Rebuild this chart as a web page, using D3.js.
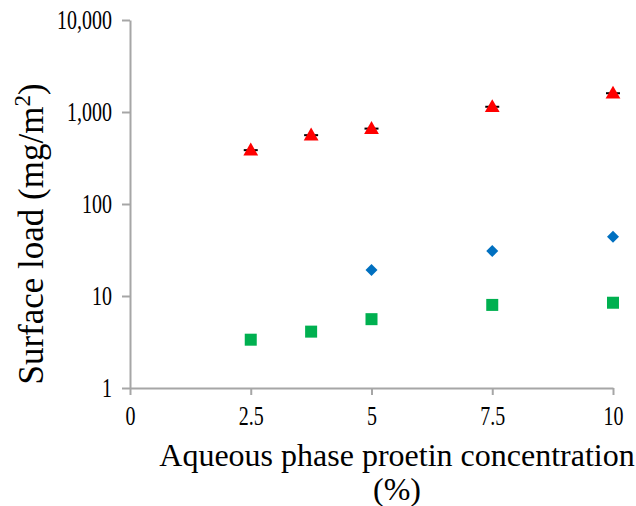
<!DOCTYPE html>
<html><head><meta charset="utf-8">
<script src="https://cdn.jsdelivr.net/npm/d3@7"></script>
</head><body style="margin:0">
<script>
const xValues = [2.5, 3.75, 5, 7.5, 10];
const triangleValues = [385, 560, 660, 1140, 1600];
const diamondX = [5, 7.5, 10];
const diamondValues = [19.2, 30.8, 44];
const squareValues = [3.35, 4.1, 5.6, 8.0, 8.45];
const xTicks = [0, 2.5, 5, 7.5, 10];
const yTicks = [1, 10, 100, 1000, 10000];
const xTitle = ["Aqueous phase proetin concentration", "(%)"];

const svg = d3.select("body").append("svg").attr("width", 636).attr("height", 506)
  .style("display", "block");
const x = d3.scaleLinear().domain([0, 10]).range([130, 613]);
const y = d3.scaleLog().domain([1, 10000]).range([388, 20]);
const axisColor = "#a6a6a6";
const serifFamily = "Liberation Serif, Times New Roman, serif";
const squeeze = 0.74;

const gx = svg.append("g").attr("transform", "translate(0,388)")
  .call(d3.axisBottom(x).tickValues(xTicks).tickSize(7).tickSizeOuter(0).tickPadding(11)
    .tickFormat(d => String(d)));
const gy = svg.append("g").attr("transform", "translate(130,0)")
  .call(d3.axisLeft(y).tickValues(yTicks).tickSize(8).tickSizeOuter(0).tickPadding(10)
    .tickFormat(d3.format(",")));
[gx, gy].forEach(g => {
  g.attr("font-family", serifFamily).attr("font-size", 27);
  g.select(".domain").attr("stroke", axisColor).attr("stroke-width", 2);
  g.selectAll(".tick line").attr("stroke", axisColor).attr("stroke-width", 2);
});
gx.selectAll(".tick text").attr("fill", "#000").attr("transform", `scale(${squeeze},1)`);
gy.selectAll(".tick text").attr("fill", "#000").attr("x", null)
  .attr("transform", `translate(-18,0) scale(${squeeze},1)`);

// error caps behind triangles
svg.append("g").selectAll("line").data(xValues).join("line")
  .attr("x1", (d) => x(d) - 7).attr("x2", (d) => x(d) + 7)
  .attr("y1", (d, i) => y(triangleValues[i])).attr("y2", (d, i) => y(triangleValues[i]))
  .attr("stroke", "#000").attr("stroke-width", 2);

svg.append("g").selectAll("path").data(xValues).join("path")
  .attr("d", d3.symbol().type(d3.symbolTriangle).size(95))
  .attr("transform", (d, i) => `translate(${x(d)},${y(triangleValues[i]) + 1})`)
  .attr("fill", "#ff0000");

svg.append("g").selectAll("path").data(diamondX).join("path")
  .attr("d", d3.symbol().type(d3.symbolSquare).size(72))
  .attr("transform", (d, i) => `translate(${x(d)},${y(diamondValues[i])}) rotate(45)`)
  .attr("fill", "#0070c0");

svg.append("g").selectAll("rect").data(xValues).join("rect")
  .attr("x", d => x(d) - 6).attr("y", (d, i) => y(squareValues[i]) - 6)
  .attr("width", 12).attr("height", 12)
  .attr("fill", "#00b050");

svg.append("text").attr("x", 397).attr("y", 466).attr("text-anchor", "middle")
  .attr("font-family", serifFamily).attr("font-size", 32).text(xTitle[0]);
svg.append("text").attr("x", 397).attr("y", 500).attr("text-anchor", "middle")
  .attr("font-family", serifFamily).attr("font-size", 32).text(xTitle[1]);

const yt = svg.append("text").attr("transform", "translate(43,234) rotate(-90)")
  .attr("text-anchor", "middle").attr("font-family", serifFamily).attr("font-size", 35);
yt.append("tspan").text("Surface load (mg/m");
yt.append("tspan").attr("dy", -13).attr("font-size", 23).text("2");
yt.append("tspan").attr("dy", 13).text(")");
</script>
</body></html>
